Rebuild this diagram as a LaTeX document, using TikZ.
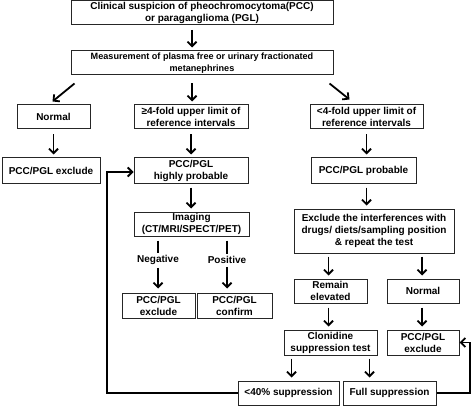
\documentclass[tikz,border=0pt]{standalone}
\usepackage{fontspec}
\setmainfont{Liberation Sans}
\usetikzlibrary{arrows.meta,calc}
\begin{document}
\begin{tikzpicture}[x=1pt,y=-1pt,
 txt/.style={font=\bfseries\fontsize{10}{12}\selectfont},
 box/.style={txt,draw=black!85, line width=1pt, align=center, inner sep=0pt},
 lbl/.style={txt,align=center, inner sep=0pt},
 arr/.style={line width=1.8pt, -{Straight Barb[length=4.5pt,width=9pt]}},
 ln/.style={line width=1.8pt}]
\useasboundingbox (0,0) rectangle (473,406);
% boxes
\node[box, minimum width=262pt, minimum height=24pt] (top) at (202,12.5) {Clinical suspicion of pheochromocytoma(PCC)\\or paraganglioma (PGL)};
\node[box, minimum width=262pt, minimum height=24pt, font=\bfseries\fontsize{9.1}{12}\selectfont] (meas) at (202,63) {Measurement of plasma free or urinary fractionated\\metanephrines};
\node[box, minimum width=73pt, minimum height=24pt] (normal) at (53.5,117) {Normal};
\node[box, minimum width=114pt, minimum height=24pt] (ge4) at (191,117) {≥4-fold upper limit of\\reference intervals};
\node[box, minimum width=113pt, minimum height=24pt] (lt4) at (366.5,117) {<4-fold upper limit of\\reference intervals};
\node[box, minimum width=98pt, minimum height=25pt] (excl1) at (51,170.5) {PCC/PGL exclude};
\node[box, minimum width=114pt, minimum height=25pt] (high) at (191,170.5) {PCC/PGL\\highly probable};
\node[box, minimum width=105pt, minimum height=25pt] (prob) at (363.5,170.5) {PCC/PGL probable};
\node[box, minimum width=115pt, minimum height=24pt] (imaging) at (191.5,224) {Imaging\\(CT/MRI/SPECT/PET)};
\node[lbl] (neg) at (158,260) {Negative};
\node[lbl] (pos) at (227,260) {Positive};
\node[box, minimum width=73pt, minimum height=25pt] (excl2) at (158.5,305.5) {PCC/PGL\\exclude};
\node[box, minimum width=75pt, minimum height=25pt] (confirm) at (234.5,305.5) {PCC/PGL\\confirm};
\node[box, minimum width=160pt, minimum height=44pt] (exint) at (374,231) {Exclude the interferences with\\drugs/ diets/sampling position\\\& repeat the test};
\node[box, minimum width=73pt, minimum height=24pt] (remain) at (330.5,291) {Remain\\elevated};
\node[box, minimum width=72pt, minimum height=24pt] (normal2) at (423,291) {Normal};
\node[box, minimum width=93pt, minimum height=25pt] (clon) at (330.5,342.5) {Clonidine\\suppression test};
\node[box, minimum width=72pt, minimum height=25pt] (excl3) at (423,342.5) {PCC/PGL\\exclude};
\node[box, minimum width=101pt, minimum height=24pt] (lt40) at (288.5,393) {<40\% suppression};
\node[box, minimum width=93pt, minimum height=24pt] (full) at (389.5,393) {Full suppression};
\coordinate (fbL) at (107,0);
\coordinate (fbR) at (470,0);
% connectors
\draw[arr, shorten <=5pt, shorten >=3pt] ($(top.south)+(-10,0)$) -- ($(meas.north)+(-10,0)$);
\draw[arr] ($(meas.south west)+(4,8)$) -- ($(normal.north)+(-1,-3)$);
\draw[arr] ($(meas.south -| ge4.north)+(1,8)$) -- ($(ge4.north)+(1,-3)$);
\draw[arr] ($(meas.south east)+(-4,8)$) -- ($(lt4.north)+(-17,-5)$);
\draw[arr, shorten <=5pt, shorten >=3pt] (normal.south) -- (normal.south |- excl1.north);
\draw[arr, shorten <=5pt, shorten >=3pt] (ge4.south) -- (ge4.south |- high.north);
\draw[arr, shorten <=5pt, shorten >=3pt] (lt4.south) -- (lt4.south |- prob.north);
\draw[arr, shorten <=4pt, shorten >=3pt] (high.south) -- (high.south |- imaging.north);
\draw[arr, shorten <=4pt, shorten >=3pt] ($(prob.south)+(3,0)$) coordinate (p1) -- (p1 |- exint.north);
\draw[ln, shorten <=4pt, shorten >=2pt] (neg.north |- imaging.south) -- (neg.north);
\draw[ln, shorten <=4pt, shorten >=2pt] (pos.north |- imaging.south) -- (pos.north);
\draw[arr, shorten <=3pt, shorten >=4pt] (neg.south) -- (neg.south |- excl2.north);
\draw[arr, shorten <=3pt, shorten >=4pt] (pos.south) -- (pos.south |- confirm.north);
\draw[arr, shorten <=3pt, shorten >=3pt] ($(remain.north |- exint.south)+(-2,0)$) coordinate (e1) -- (e1 |- remain.north);
\draw[arr, shorten <=3pt, shorten >=3pt] ($(normal2.north |- exint.south)+(-1,0)$) coordinate (e2) -- (e2 |- normal2.north);
\draw[arr, shorten <=4pt, shorten >=3pt] ($(remain.south)+(-2,0)$) coordinate (r1) -- (r1 |- clon.north);
\draw[arr, shorten <=4pt, shorten >=3pt] ($(normal2.south)+(-1,0)$) coordinate (n1) -- (n1 |- excl3.north);
\draw[arr, shorten <=3pt, shorten >=3pt] ($(clon.south west)+(8,0)$) coordinate (c1) -- (c1 |- lt40.north);
\draw[arr, shorten <=3pt, shorten >=3pt] ($(clon.south east)+(-8,0)$) coordinate (c2) -- (c2 |- full.north);
\draw[arr] (lt40.west) -| ($(fbL |- high.west)+(0,1.5)$) -- ($(high.west)+(0,1.5)$);
\draw[arr] (full.east) -| (fbR |- excl3.east) -- (excl3.east);
\end{tikzpicture}
\end{document}
